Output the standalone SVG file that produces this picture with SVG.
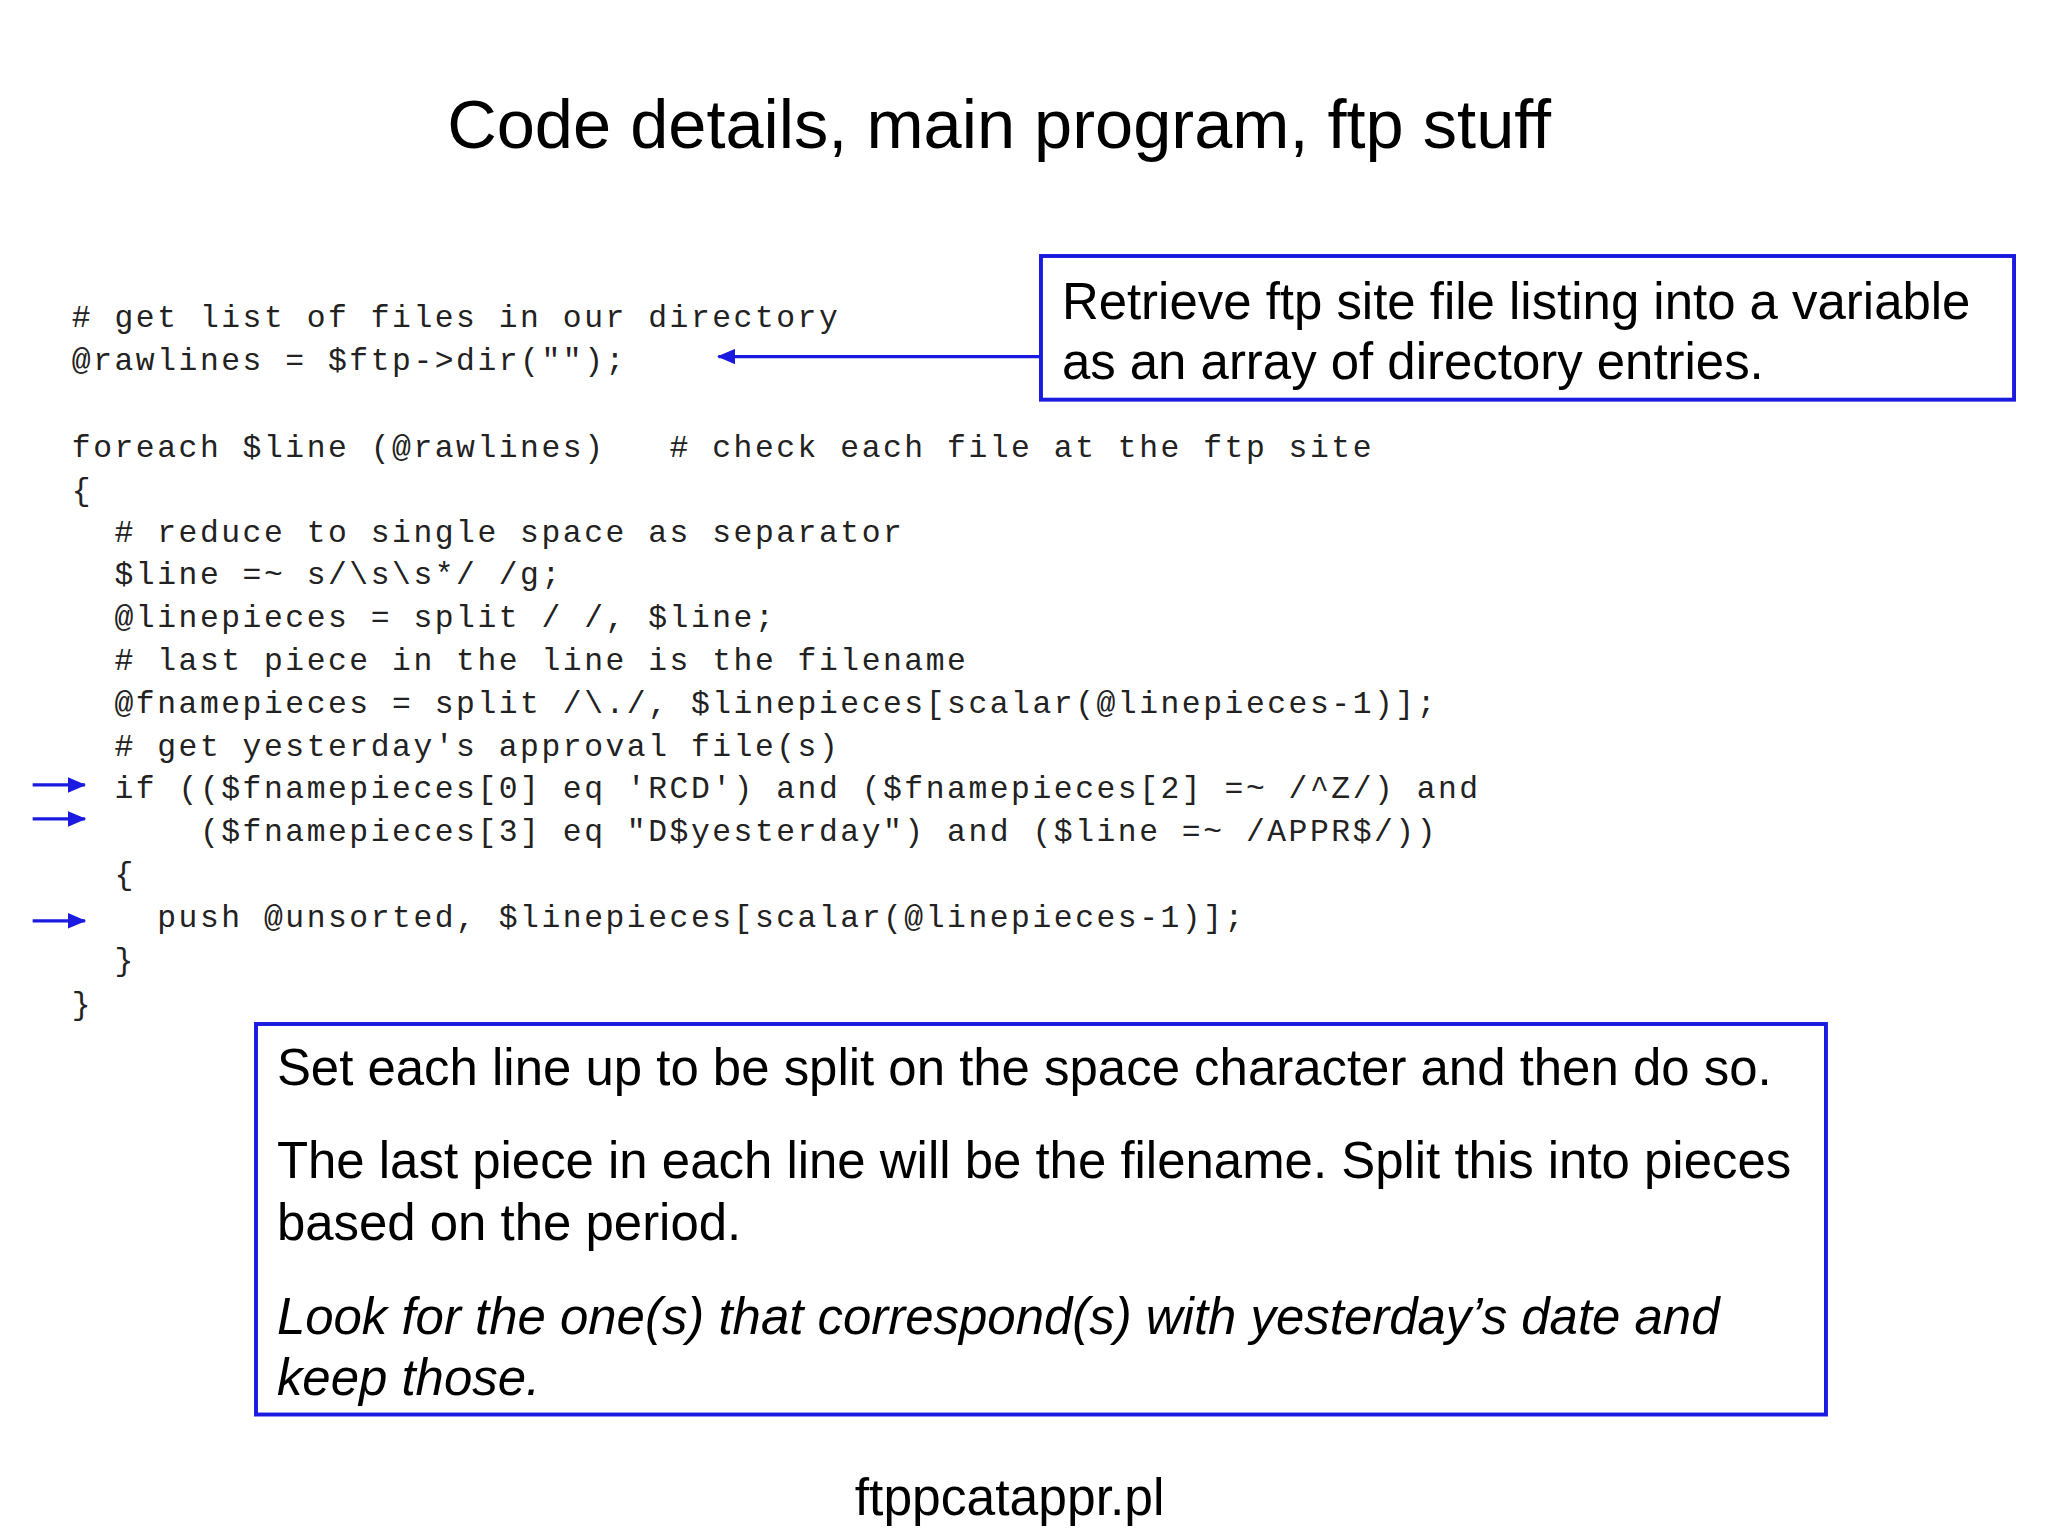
<svg xmlns="http://www.w3.org/2000/svg" width="2048" height="1536" viewBox="0 0 2048 1536">
<style>
.code{font-family:"Liberation Mono",monospace;font-size:24px;letter-spacing:1.95px;fill:#222;white-space:pre}
.t{font-family:"Liberation Sans",Arial,sans-serif;fill:#000}
.box{fill:#fff;stroke:#1a1ae0;stroke-width:3}
.arr{stroke:#1a1ae0;stroke-width:2.5;fill:none}
</style>
<defs>
<marker id="ah" markerWidth="14" markerHeight="12" refX="13" refY="6" orient="auto" markerUnits="userSpaceOnUse" viewBox="0 0 14 12"><path d="M0,0L14,6L0,12Z" fill="#1a1ae0"/></marker>
<marker id="ah2" markerWidth="14" markerHeight="12" refX="13" refY="6" orient="auto" markerUnits="userSpaceOnUse" viewBox="0 0 14 12"><path d="M0,0L14,6L0,12Z" fill="#1a1ae0"/></marker>
</defs>
<rect width="2048" height="1536" fill="#fff"/>
<g transform="scale(1.30612)">
<text class="t" x="765" y="113" font-size="52.5" text-anchor="middle">Code details, main program, ftp stuff</text>
<g id="code">
<text class="code" x="55" y="250"># get list of files in our directory</text>
<text class="code" x="55" y="283">@rawlines = $ftp-&gt;dir("");</text>
<text class="code" x="55" y="350">foreach $line (@rawlines)   # check each file at the ftp site</text>
<text class="code" x="55" y="383">{</text>
<text class="code" x="55" y="415">  # reduce to single space as separator</text>
<text class="code" x="55" y="447">  $line =~ s/\s\s*/ /g;</text>
<text class="code" x="55" y="480">  @linepieces = split / /, $line;</text>
<text class="code" x="55" y="513">  # last piece in the line is the filename</text>
<text class="code" x="55" y="546">  @fnamepieces = split /\./, $linepieces[scalar(@linepieces-1)];</text>
<text class="code" x="55" y="579">  # get yesterday's approval file(s)</text>
<text class="code" x="55" y="611">  if (($fnamepieces[0] eq 'RCD') and ($fnamepieces[2] =~ /^Z/) and</text>
<text class="code" x="55" y="644">      ($fnamepieces[3] eq "D$yesterday") and ($line =~ /APPR$/))</text>
<text class="code" x="55" y="677">  {</text>
<text class="code" x="55" y="710">    push @unsorted, $linepieces[scalar(@linepieces-1)];</text>
<text class="code" x="55" y="743">  }</text>
<text class="code" x="55" y="776">}</text>
</g>
<g id="box1">
<rect class="box" x="797" y="196" width="745" height="110"/>
<text class="t" x="813" y="244" font-size="39">Retrieve ftp site file listing into a variable</text>
<text class="t" x="813" y="290" font-size="39">as an array of directory entries.</text>
</g>
<g id="box2">
<rect class="box" x="196" y="784" width="1202" height="299"/>
<text class="t" x="212" y="831" font-size="39">Set each line up to be split on the space character and then do so.</text>
<text class="t" x="212" y="902" font-size="39">The last piece in each line will be the filename. Split this into pieces</text>
<text class="t" x="212" y="949" font-size="39">based on the period.</text>
<text class="t" x="212" y="1021" font-size="39" font-style="italic">Look for the one(s) that correspond(s) with yesterday’s date and</text>
<text class="t" x="212" y="1068" font-size="39" font-style="italic">keep those.</text>
</g>
<g id="connectors">
<line class="arr" x1="797" y1="273" x2="550" y2="273" stroke-width="2" marker-end="url(#ah2)"/>
<line class="arr" x1="25" y1="601" x2="65" y2="601" stroke-width="4" marker-end="url(#ah)"/>
<line class="arr" x1="25" y1="627" x2="65" y2="627" stroke-width="4" marker-end="url(#ah)"/>
<line class="arr" x1="25" y1="705" x2="65" y2="705" stroke-width="4" marker-end="url(#ah)"/>
</g>
<text class="t" x="773" y="1160" font-size="39.5" text-anchor="middle">ftppcatappr.pl</text>
</g>
</svg>
